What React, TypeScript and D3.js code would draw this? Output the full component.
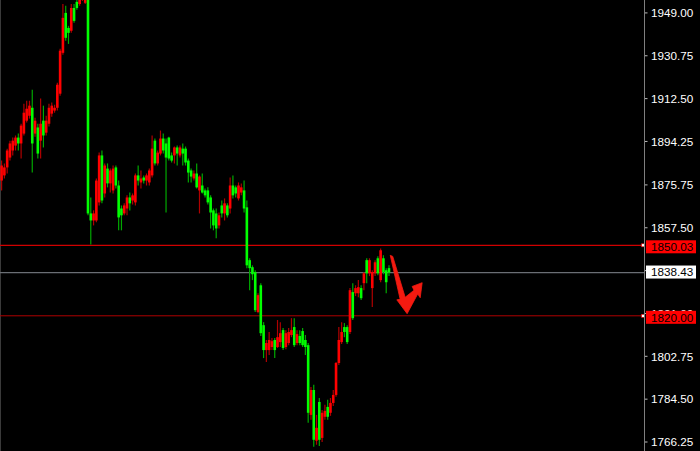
import React from 'react';
import * as d3 from 'd3';

const W = 700;
const H = 451;
const PLOT_RIGHT = 644.5;

// Bar OHLC values, oldest first
const opens = [
  1877.6, 1879.8, 1883.2, 1887.4, 1890.4, 1892.5, 1895.9, 1893.4, 1897.6, 1903.1,
  1905.2, 1908.6, 1897.6, 1900.2, 1894.6, 1903.1, 1898.0, 1901.8, 1906.1, 1907.4,
  1908.6, 1914.6, 1932.0, 1949.0, 1942.6, 1941.4, 1951.1, 1953.7, 1952.8, 1956.2,
  1953.3, 1960.5, 1863.6, 1860.6, 1860.6, 1868.3, 1888.3, 1872.1, 1882.7, 1876.4,
  1873.4, 1883.2, 1875.5, 1865.7, 1863.6, 1865.7, 1870.4, 1869.1, 1868.3, 1879.8,
  1876.8, 1878.9, 1877.6, 1876.8, 1879.8, 1894.6, 1884.9, 1889.1, 1895.5, 1893.4,
  1895.9, 1888.3, 1888.3, 1891.7, 1888.3, 1891.2, 1891.2, 1886.1, 1881.9, 1878.5,
  1880.6, 1873.4, 1875.5, 1873.4, 1873.4, 1870.4, 1864.9, 1863.6, 1858.5, 1867.0,
  1863.6, 1867.0, 1865.7, 1875.5, 1874.7, 1870.0, 1872.5, 1873.4, 1866.2, 1843.7,
  1840.7, 1838.6, 1821.6, 1833.0, 1816.0, 1805.4, 1805.4, 1806.7, 1809.7, 1806.7,
  1808.8, 1813.9, 1806.7, 1808.4, 1811.8, 1815.2, 1808.4, 1811.4, 1813.5, 1809.7,
  1807.5, 1777.8, 1788.4, 1766.8, 1783.3, 1768.0, 1777.0, 1781.2, 1778.7, 1782.9,
  1786.3, 1799.9, 1808.8, 1815.2, 1815.2, 1813.1, 1830.1, 1829.6, 1829.6, 1831.8,
  1833.9, 1843.7, 1838.1, 1831.8, 1838.1, 1844.5, 1835.2, 1844.5, 1839.4, 1840.3,
];

const highs = [
  1886.1, 1884.9, 1891.2, 1894.6, 1895.9, 1896.8, 1897.6, 1901.8, 1910.3, 1911.6,
  1911.6, 1916.3, 1904.4, 1901.8, 1912.5, 1909.5, 1905.2, 1910.3, 1910.8, 1909.9,
  1919.3, 1933.7, 1952.8, 1952.0, 1943.5, 1952.8, 1952.8, 1954.9, 1956.2, 1960.5,
  1960.5, 1962.6, 1870.4, 1864.9, 1878.5, 1889.5, 1890.4, 1884.9, 1884.9, 1882.7,
  1884.0, 1884.0, 1877.6, 1867.0, 1867.9, 1871.3, 1872.5, 1872.1, 1880.6, 1884.0,
  1881.9, 1879.8, 1880.6, 1882.7, 1896.8, 1895.5, 1890.4, 1898.9, 1897.6, 1895.5,
  1896.3, 1889.5, 1892.1, 1892.5, 1892.5, 1893.4, 1892.1, 1887.0, 1882.7, 1881.9,
  1884.9, 1879.8, 1880.6, 1874.2, 1874.7, 1871.3, 1865.7, 1865.7, 1864.0, 1869.1,
  1870.0, 1867.9, 1878.9, 1879.8, 1875.5, 1876.8, 1876.4, 1877.6, 1869.1, 1844.5,
  1841.5, 1839.4, 1829.6, 1833.9, 1817.3, 1809.7, 1813.1, 1810.5, 1810.5, 1818.2,
  1817.3, 1814.8, 1813.9, 1814.8, 1819.0, 1819.0, 1813.9, 1813.9, 1814.8, 1811.8,
  1808.4, 1789.7, 1790.6, 1777.8, 1785.0, 1779.9, 1782.1, 1784.2, 1785.0, 1788.4,
  1800.3, 1815.2, 1817.3, 1816.9, 1816.0, 1831.8, 1833.9, 1833.0, 1835.2, 1833.0,
  1838.6, 1844.5, 1844.5, 1839.4, 1843.7, 1845.4, 1848.7, 1845.8, 1840.3, 1841.5,
];

const lows = [
  1873.4, 1878.5, 1880.6, 1886.1, 1888.3, 1890.4, 1890.4, 1887.0, 1896.8, 1902.3,
  1904.0, 1881.0, 1896.3, 1887.0, 1887.0, 1891.7, 1896.8, 1900.6, 1904.8, 1906.5,
  1907.4, 1913.7, 1931.2, 1937.1, 1935.8, 1940.5, 1944.8, 1950.3, 1952.0, 1954.1,
  1952.8, 1862.8, 1850.4, 1858.5, 1859.8, 1867.0, 1867.9, 1870.4, 1874.7, 1872.5,
  1872.1, 1874.2, 1856.4, 1856.4, 1862.8, 1862.8, 1864.9, 1867.4, 1867.0, 1875.5,
  1874.2, 1876.4, 1875.5, 1875.5, 1878.9, 1884.0, 1884.0, 1888.3, 1889.1, 1864.0,
  1886.1, 1885.3, 1884.9, 1884.0, 1887.4, 1884.0, 1884.0, 1876.8, 1876.8, 1877.6,
  1874.2, 1863.6, 1872.1, 1870.4, 1867.4, 1857.2, 1856.4, 1853.0, 1857.2, 1861.9,
  1860.6, 1861.9, 1863.6, 1870.0, 1870.4, 1869.1, 1871.3, 1864.0, 1840.3, 1830.9,
  1835.2, 1821.6, 1821.1, 1811.4, 1802.0, 1800.3, 1803.3, 1805.4, 1802.0, 1806.3,
  1806.7, 1805.4, 1805.8, 1807.5, 1810.9, 1806.7, 1807.5, 1807.5, 1806.7, 1803.3,
  1774.4, 1775.7, 1764.2, 1765.1, 1764.6, 1766.3, 1775.7, 1775.7, 1777.4, 1781.6,
  1785.5, 1799.0, 1808.0, 1810.9, 1808.0, 1812.2, 1818.2, 1828.4, 1827.9, 1826.7,
  1830.9, 1833.9, 1836.9, 1823.7, 1836.9, 1837.3, 1834.3, 1837.7, 1829.6, 1836.9,
];

const closes = [
  1884.0, 1883.2, 1890.4, 1893.4, 1894.6, 1895.9, 1893.4, 1901.0, 1906.5, 1908.2,
  1909.5, 1893.4, 1903.1, 1889.1, 1901.8, 1896.8, 1903.1, 1908.6, 1909.5, 1908.6,
  1918.4, 1932.9, 1946.9, 1938.4, 1940.5, 1951.1, 1945.6, 1951.1, 1954.9, 1959.2,
  1958.3, 1863.6, 1860.6, 1863.6, 1877.6, 1888.3, 1869.1, 1884.0, 1876.4, 1881.9,
  1882.7, 1875.5, 1861.9, 1862.8, 1867.0, 1870.4, 1867.9, 1871.3, 1879.8, 1877.6,
  1878.5, 1877.6, 1879.8, 1881.9, 1891.2, 1884.9, 1889.5, 1895.5, 1890.4, 1887.4,
  1887.0, 1886.1, 1891.7, 1889.1, 1891.7, 1889.1, 1885.3, 1881.0, 1879.3, 1880.6,
  1874.7, 1879.3, 1872.5, 1871.3, 1868.3, 1864.0, 1858.5, 1857.2, 1862.8, 1863.6,
  1867.9, 1862.8, 1875.5, 1871.3, 1872.1, 1875.5, 1874.7, 1865.7, 1841.5, 1840.3,
  1837.7, 1822.4, 1828.8, 1812.6, 1805.4, 1808.4, 1809.7, 1809.2, 1805.4, 1810.9,
  1812.6, 1806.3, 1812.6, 1813.1, 1813.9, 1807.5, 1812.2, 1808.4, 1807.5, 1806.7,
  1778.7, 1788.4, 1767.2, 1772.3, 1767.2, 1778.7, 1779.5, 1777.0, 1782.9, 1786.3,
  1799.9, 1809.7, 1813.1, 1813.1, 1808.8, 1830.9, 1819.0, 1831.8, 1832.2, 1827.5,
  1838.1, 1838.1, 1843.7, 1838.6, 1842.8, 1838.1, 1847.9, 1838.6, 1834.3, 1838.43,
];

// Price axis labels
const tickLabels = [
  '1949.00', '1930.75', '1912.50', '1894.25', '1875.75', '1857.50',
  '1839.25', '1821.00', '1802.75', '1784.50', '1766.25',
];

// Horizontal levels
const resistanceLevel = 1850.03;
const supportLevel = 1820.0;
const bidLevel = 1838.43;

// Hand-drawn projection arrow, as [bar position, price] vertices
const arrowPoints: [number, number][] = [
  [139.45, 1845.75], [140.35, 1845.3], [144.8, 1827.9], [147.98, 1830.9],
  [147.3, 1832.5], [150.9, 1834.1], [150.2, 1827.7], [149.3, 1829.3],
  [145.5, 1820.9], [141.8, 1826.8], [143.0, 1827.0],
];

const FONT = '"Liberation Sans", Arial, sans-serif';
const UP_BODY = '#ff0000';
const UP_WICK = '#b00000';
const DOWN_BODY = '#00ff00';
const DOWN_WICK = '#00a800';

export default function App() {
  const y = d3.scaleLinear().domain([1762.42, 1954.5]).range([H, 0]);
  const x = d3.scaleLinear().domain([0, opens.length - 1]).range([1.6, 389]);

  const bars = opens.map((o, i) => ({ o, h: highs[i], l: lows[i], c: closes[i], i }));
  const arrowPath = d3.line<[number, number]>()
    .x((d) => x(d[0]))
    .y((d) => y(d[1]))(arrowPoints) + 'Z';

  const levelLabel = (v: number, bg: string, offset: number) => (
    <g key={'lab' + v}>
      <rect x={646} y={y(v) - offset} width={50} height={13} fill={bg} />
      <text x={651} y={y(v) - offset + 6.5} dy="0.36em" fontFamily={FONT} fontSize={11.7} fill="#000">
        {v.toFixed(2)}
      </text>
    </g>
  );

  return (
    <svg
      width={W}
      height={H}
      style={{ position: 'absolute', left: 0, top: 0, display: 'block', background: '#000' }}
    >
      <defs>
        <clipPath id="plot">
          <rect x={0} y={0} width={PLOT_RIGHT} height={H} />
        </clipPath>
      </defs>
      <rect x={0} y={0} width={W} height={H} fill="#000" />
      <line x1={0.5} x2={0.5} y1={0} y2={H} stroke="#3a3a3a" />

      <g clipPath="url(#plot)">
        {/* level lines */}
        <line x1={0} x2={PLOT_RIGHT} y1={y(resistanceLevel)} y2={y(resistanceLevel)} stroke="#d00000" strokeWidth={1.3} />
        <line x1={0} x2={PLOT_RIGHT} y1={y(bidLevel)} y2={y(bidLevel)} stroke="#6a6e74" strokeWidth={1.2} />
        <line x1={0} x2={PLOT_RIGHT} y1={y(supportLevel)} y2={y(supportLevel)} stroke="#b00000" strokeWidth={1} />

        {/* candles */}
        {bars.map((b) => {
          const up = b.c >= b.o;
          const cx = x(b.i);
          const top = y(Math.max(b.o, b.c));
          const bot = y(Math.min(b.o, b.c));
          return (
            <g key={b.i}>
              <line x1={cx} x2={cx} y1={y(b.h)} y2={y(b.l)} stroke={up ? UP_WICK : DOWN_WICK} strokeWidth={1.2} />
              <rect x={cx - 1.3} y={top} width={2.6} height={Math.max(1, bot - top)} fill={up ? UP_BODY : DOWN_BODY} />
            </g>
          );
        })}

        <path d={arrowPath} fill="#f41a10" stroke="#f41a10" strokeWidth={0.8} strokeLinejoin="round" />
      </g>

      {/* level markers at the axis */}
      {[resistanceLevel, supportLevel].map((v) => (
        <rect key={'m' + v} x={641.5} y={y(v) - 1.5} width={3} height={3} fill="#fff" stroke="#e00000" strokeWidth={0.6} />
      ))}

      {/* price axis */}
      <line x1={PLOT_RIGHT} x2={PLOT_RIGHT} y1={0} y2={H} stroke="#7f7f7f" strokeWidth={1} />
      {tickLabels.map((t) => {
        const ty = y(+t);
        return (
          <g key={t}>
            <line x1={645} x2={647.5} y1={ty} y2={ty} stroke="#bbbbbb" />
            <text x={651} y={ty} dy="0.36em" fontFamily={FONT} fontSize={11.7} fill="#ffffff">
              {t}
            </text>
          </g>
        );
      })}

      {levelLabel(resistanceLevel, '#ff0000', 5)}
      {levelLabel(bidLevel, '#ffffff', 7)}
      {levelLabel(supportLevel, '#ff0000', 5)}
    </svg>
  );
}
